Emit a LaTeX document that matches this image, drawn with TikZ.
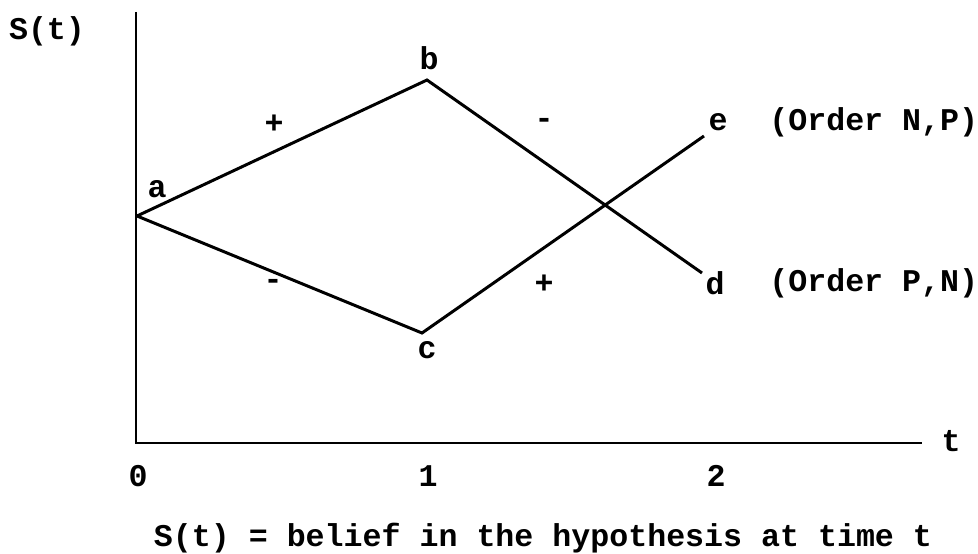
\documentclass[tikz,border=0pt]{standalone}
\usepackage{fontspec}
\setmainfont{Liberation Mono}
\usepackage{tikz}
\usetikzlibrary{positioning}
\tikzset{
  lbl/.style={font=\fontsize{18}{20}\selectfont\bfseries, inner sep=0pt},
  curve/.style={line width=1.7pt, line join=miter},
  axis/.style={line width=1.5pt}
}

\begin{document}
\begin{tikzpicture}[x=0.02cm, y=-0.02cm]
  \useasboundingbox (0,0) rectangle (978,554);

  % axes
  \coordinate (top) at (136,12);
  \coordinate (origin) at (136,443);
  \coordinate (tend) at (922,443);
  \draw[axis] (top) -- (origin) -- (tend);
  \node[lbl] (ylabel) at (47,31) {S(t)};
  \node[lbl] (tlabel) at (951,441) {t};
  \foreach \n/\x in {0/138, 1/428, 2/716}
    \node[lbl] (tick\n) at (\x,476) {\n};

  % belief paths
  \coordinate (a) at (137,216);
  \coordinate (b) at (427,80);
  \coordinate (c) at (422,333);
  \coordinate (d) at (702,273);
  \coordinate (e) at (704,136);
  \draw[curve] (a) -- (b) -- (d);
  \draw[curve] (a) -- (c) -- (e);

  \node[lbl] (alabel) at (157,189) {a};
  \node[lbl] (blabel) at (429,58) {b};
  \node[lbl] (clabel) at (427,350) {c};
  \node[lbl] (dlabel) at (715,283) {d};
  \node[lbl] (elabel) at (718,122) {e};
  \node[lbl, anchor=west] (orderNP) at (769,122) {(Order N,P)};
  \node[lbl, anchor=west] (orderPN) at (769,283) {(Order P,N)};

  % signs on the segments
  \node[lbl] (sab) at (274,124) {+};
  \node[lbl] (sbd) at (544,123) {-};
  \node[lbl] (sac) at (273,284) {-};
  \node[lbl] (sce) at (544,284) {+};

  \node[lbl] (caption) at (543,538) {S(t) = belief in the hypothesis at time t};
\end{tikzpicture}
\end{document}
